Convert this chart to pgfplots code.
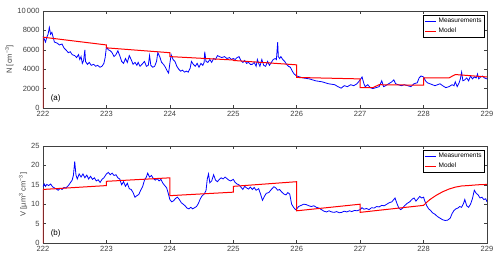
\documentclass[border=0pt]{standalone}
\usepackage{pgfplots}
\pgfplotsset{compat=1.18}
\usepackage{fontspec}
\setmainfont{Liberation Sans}
\definecolor{axgray}{gray}{0.25}
\pgfplotsset{
  mystyle/.style={
    scale only axis, width=444pt, height=97pt,
    xmin=222, xmax=229, xtick={222,...,229},
    tick align=inside, tick pos=both,
    major tick length=3pt,
    axis line style={axgray, line width=0.5pt},
    every tick/.style={axgray, line width=0.5pt},
    tick label style={font=\fontsize{7.5}{9}\selectfont, text=axgray},
    label style={font=\fontsize{7.5}{9}\selectfont, text=axgray},
    /pgf/number format/assume math mode=true,
    /pgf/number format/1000 sep={},
    scaled y ticks=false,
    legend style={at={(0.995,0.96)}, anchor=north east, font=\fontsize{6.5}{7.5}\selectfont,
      inner sep=1pt, row sep=0pt, cells={anchor=west}},
    legend image code/.code={\draw[#1, line width=1.1pt] (0pt,0pt) -- (11pt,0pt);},
    clip=true,
  }
}
\begin{document}
\begin{tikzpicture}
\path[use as bounding box] (-43pt,11pt) rectangle (457pt,-251pt);
\begin{axis}[mystyle, at={(0pt,0pt)}, anchor=north west,
  ymin=0, ymax=10000, ytick={0,2000,4000,6000,8000,10000},
  yticklabels={0,2000,4000,6000,8000,10\,000},
  ylabel={N [cm\textsuperscript{−3}]}, ylabel style={yshift=-3pt}]
\addplot[draw=blue, color=blue, line width=0.8pt] coordinates {
(222.00,7400)(222.02,7100)(222.04,6800)(222.06,7300)(222.08,7600)(222.10,8300)(222.12,7600)(222.14,7800)(222.16,7300)
(222.18,6800)(222.22,6700)(222.26,6500)(222.30,6600)(222.33,6200)(222.36,6000)(222.40,5700)(222.43,5800)(222.46,5500)
(222.50,5400)(222.53,5200)(222.56,5500)(222.58,5000)(222.60,5300)(222.62,4600)(222.64,4900)(222.66,6000)(222.67,4800)
(222.70,4500)(222.73,4700)(222.76,4400)(222.80,4500)(222.83,4300)(222.86,4400)(222.90,4200)(222.93,4300)(222.96,4600)
(222.98,5200)(223.00,6300)(223.03,6000)(223.06,5900)(223.09,5700)(223.12,5300)(223.15,5500)(223.18,5900)(223.21,5400)
(223.24,4800)(223.27,4600)(223.30,5100)(223.33,4700)(223.36,5400)(223.39,5000)(223.42,4500)(223.45,4700)(223.48,4400)
(223.50,4700)(223.53,4300)(223.56,4500)(223.60,4800)(223.63,4300)(223.66,4400)(223.68,5400)(223.70,4400)(223.73,4200)
(223.76,4300)(223.79,4800)(223.81,5700)(223.84,5300)(223.87,4700)(223.90,4500)(223.93,4200)(223.96,3800)(223.98,3600)
(224.00,4600)(224.02,5500)(224.05,5000)(224.08,4800)(224.11,4300)(224.14,4000)(224.17,3800)(224.20,3900)(224.23,3700)
(224.26,3800)(224.29,3700)(224.32,4100)(224.34,4800)(224.37,4500)(224.40,4300)(224.43,4600)(224.46,4200)(224.49,4600)
(224.52,4400)(224.54,4700)(224.55,5800)(224.57,4800)(224.60,4700)(224.63,5000)(224.66,4700)(224.69,5100)(224.72,5000)
(224.75,5400)(224.78,5300)(224.82,5200)(224.86,5300)(224.90,5100)(224.94,5200)(224.97,5000)(225.00,5100)(225.03,5000)
(225.06,5200)(225.09,5300)(225.12,4900)(225.15,4700)(225.18,4900)(225.21,4600)(225.24,4700)(225.27,4500)(225.30,4500)
(225.33,4700)(225.36,4300)(225.38,5000)(225.40,4600)(225.42,4300)(225.45,5000)(225.48,4400)(225.51,4300)(225.54,4800)
(225.57,4400)(225.60,4700)(225.63,5000)(225.66,5100)(225.68,5000)(225.70,6800)(225.71,5300)(225.73,5100)(225.75,5300)
(225.78,5000)(225.81,4800)(225.84,4500)(225.87,4300)(225.90,4200)(225.93,3800)(225.96,3500)(226.00,3300)(226.05,3200)
(226.10,3100)(226.15,3050)(226.20,3000)(226.25,2900)(226.30,2800)(226.35,2750)(226.40,2700)(226.45,2600)(226.50,2500)
(226.55,2450)(226.60,2400)(226.65,2200)(226.70,2050)(226.75,2300)(226.80,2200)(226.85,2400)(226.90,2300)(226.95,2500)
(227.00,2900)(227.03,3200)(227.06,2500)(227.08,2200)(227.12,2400)(227.16,2100)(227.20,2000)(227.25,2100)(227.30,2200)
(227.34,2800)(227.37,2200)(227.40,2300)(227.45,2500)(227.50,2700)(227.53,2900)(227.56,2500)(227.60,2400)(227.65,2300)
(227.70,2400)(227.75,2300)(227.80,2200)(227.85,2500)(227.90,2600)(227.93,3100)(227.96,3300)(228.00,3200)(228.03,2800)
(228.06,2600)(228.10,2500)(228.14,2400)(228.18,2300)(228.22,2400)(228.26,2500)(228.30,2300)(228.35,2100)(228.40,2200)
(228.45,2400)(228.48,2300)(228.50,2700)(228.53,2200)(228.56,2600)(228.58,3000)(228.60,3700)(228.62,2800)(228.65,2900)
(228.68,3100)(228.71,2800)(228.74,3300)(228.77,3000)(228.80,3200)(228.83,3100)(228.85,3500)(228.87,3000)(228.90,3200)
(228.93,3300)(228.96,3100)(229.00,3000)
};
\addlegendentry{Measurements}
\addplot[draw=red, color=red, line width=1pt] coordinates {
(222.00,0)(222.00,7300)(223.00,6500)(223.00,6200)(224.00,5700)(224.00,5300)(225.00,4950)(225.00,4900)
(226.00,4450)(226.00,3150)(227.00,3000)(227.00,2100)(227.20,2100)(227.30,2400)(228.00,2350)(228.00,3100)
(228.40,3100)(228.50,3450)(229.00,3200)
};
\addlegendentry{Model}
\node[font=\fontsize{8}{9}\selectfont, text=black] at (axis cs:222.2,1000) {(a)};
\end{axis}
\begin{axis}[mystyle, at={(0pt,-135pt)}, anchor=north west,
  ymin=0, ymax=25, ytick={0,5,...,25},
  ylabel={V [µm\textsuperscript{3} cm\textsuperscript{−3}]}, ylabel style={yshift=-3pt}]
\addplot[draw=blue, color=blue, line width=0.8pt] coordinates {
(222.00,14.5)(222.02,15.2)(222.04,14.6)(222.06,15.1)(222.09,14.8)(222.12,15.2)(222.15,14.5)(222.18,14.2)(222.21,13.9)
(222.24,13.6)(222.27,14.1)(222.30,13.8)(222.33,14.3)(222.36,14.2)(222.40,14.8)(222.43,15.5)(222.46,16.2)(222.48,17.5)
(222.50,21.0)(222.52,17.5)(222.54,16.5)(222.57,17.8)(222.60,17.0)(222.63,17.8)(222.66,16.8)(222.69,17.5)(222.72,16.5)
(222.75,17.2)(222.78,16.4)(222.81,16.8)(222.84,16.0)(222.87,16.3)(222.90,15.6)(222.93,16.4)(222.96,16.8)(223.00,17.8)
(223.03,18.2)(223.06,17.6)(223.09,18.0)(223.12,17.4)(223.15,17.6)(223.18,16.8)(223.21,16.5)(223.24,15.0)(223.27,15.8)
(223.30,14.6)(223.33,15.4)(223.36,14.0)(223.39,13.8)(223.42,13.0)(223.45,11.8)(223.48,12.2)(223.51,12.5)(223.54,13.6)
(223.57,14.5)(223.60,16.2)(223.63,17.0)(223.65,18.0)(223.68,17.0)(223.71,17.4)(223.74,16.6)(223.77,16.2)(223.80,16.6)
(223.83,16.0)(223.86,16.4)(223.89,15.4)(223.92,14.8)(223.95,14.2)(223.98,12.5)(224.00,11.2)(224.03,10.6)(224.06,10.9)
(224.09,11.5)(224.12,11.8)(224.15,11.2)(224.18,10.4)(224.21,10.0)(224.24,9.6)(224.27,9.0)(224.30,8.8)(224.33,9.2)
(224.36,8.8)(224.39,9.1)(224.42,9.4)(224.45,10.2)(224.48,11.4)(224.51,12.2)(224.54,12.6)(224.57,13.5)(224.59,16.5)
(224.61,17.8)(224.63,15.5)(224.66,16.0)(224.69,17.6)(224.72,16.2)(224.75,15.8)(224.78,16.4)(224.81,16.8)(224.84,16.5)
(224.87,17.0)(224.90,16.6)(224.93,16.2)(224.96,16.0)(225.00,16.4)(225.03,15.6)(225.06,15.2)(225.09,15.0)(225.12,14.4)
(225.15,13.8)(225.18,14.6)(225.21,14.2)(225.24,13.9)(225.27,14.4)(225.30,13.8)(225.33,14.3)(225.36,13.6)(225.40,14.0)
(225.43,12.6)(225.46,11.0)(225.49,12.0)(225.52,12.8)(225.56,13.0)(225.60,13.8)(225.64,14.5)(225.67,14.2)(225.70,13.6)
(225.73,13.8)(225.76,13.2)(225.80,12.6)(225.83,12.4)(225.86,13.0)(225.89,12.6)(225.92,10.0)(225.95,9.2)(225.98,8.6)
(226.00,8.8)(226.03,9.4)(226.07,9.7)(226.11,10.0)(226.15,9.9)(226.19,9.6)(226.23,9.4)(226.27,9.6)(226.31,9.2)
(226.35,9.0)(226.39,8.6)(226.43,8.2)(226.47,8.0)(226.51,8.3)(226.55,8.0)(226.59,7.9)(226.63,8.1)(226.67,7.8)
(226.71,7.9)(226.75,8.2)(226.79,8.0)(226.83,8.3)(226.87,8.1)(226.91,8.4)(226.95,8.3)(227.00,8.6)(227.03,9.1)
(227.06,8.7)(227.10,8.9)(227.14,8.6)(227.18,9.1)(227.22,9.0)(227.26,9.4)(227.30,9.3)(227.34,9.7)(227.38,9.6)
(227.42,10.0)(227.46,10.4)(227.50,10.6)(227.53,11.2)(227.55,11.6)(227.58,10.2)(227.61,9.0)(227.64,8.6)(227.67,9.0)
(227.70,9.6)(227.74,10.2)(227.78,10.6)(227.82,11.3)(227.85,11.6)(227.88,10.8)(227.91,11.4)(227.94,12.0)(227.97,11.6)
(228.00,11.8)(228.02,10.8)(228.05,9.6)(228.08,8.8)(228.11,8.4)(228.14,7.8)(228.18,7.4)(228.22,6.8)(228.26,6.4)
(228.30,6.0)(228.34,5.8)(228.38,5.9)(228.42,6.4)(228.45,7.6)(228.48,8.4)(228.51,8.8)(228.54,9.0)(228.57,9.4)
(228.60,9.2)(228.63,10.2)(228.65,11.2)(228.68,9.6)(228.71,9.2)(228.74,10.0)(228.77,11.4)(228.80,13.6)(228.83,12.8)
(228.86,12.4)(228.89,11.6)(228.92,11.8)(228.95,11.2)(228.98,11.4)(229.00,10.6)
};
\addlegendentry{Measurements}
\addplot[draw=red, color=red, line width=1pt] coordinates {
(222.00,0)(222.00,13.8)(223.00,14.8)(223.00,15.9)(224.00,16.8)(224.00,12.2)(225.00,13.1)(225.00,14.6)
(226.00,15.8)(226.00,8.3)(227.00,10.0)(227.00,7.9)(228.00,9.7)(228.05,10.5)(228.10,11.2)(228.20,12.3)
(228.30,13.2)(228.40,13.9)(228.50,14.4)(228.60,14.7)(228.70,14.8)(228.85,15.0)(229.00,15.1)
};
\addlegendentry{Model}
\node[font=\fontsize{8}{9}\selectfont, text=black] at (axis cs:222.2,2.5) {(b)};
\end{axis}
\end{tikzpicture}
\end{document}
